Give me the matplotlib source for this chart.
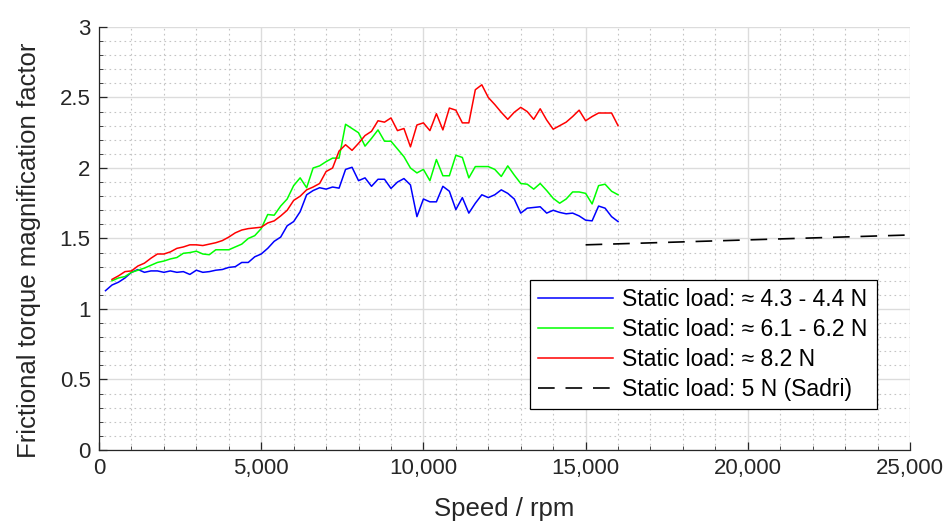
"""Frictional torque magnification factor vs speed, three static loads plus Sadri reference."""

import matplotlib
matplotlib.use("Agg")
import matplotlib.pyplot as plt
from matplotlib.ticker import FuncFormatter, MultipleLocator
import numpy as np

# speeds in rpm, 200 rpm steps
speed_blue = np.arange(200, 16001, 200)
speed_other = np.arange(400, 16001, 200)

load_43 = [
    1.13, 1.17, 1.19, 1.22, 1.26, 1.28, 1.26, 1.27, 1.27, 1.26,
    1.27, 1.26, 1.265, 1.245, 1.275, 1.26, 1.265, 1.275, 1.28, 1.295,
    1.30, 1.33, 1.33, 1.37, 1.39, 1.43, 1.48, 1.51, 1.59, 1.62,
    1.69, 1.81, 1.84, 1.86, 1.85, 1.865, 1.857, 1.99, 2.005, 1.91,
    1.93, 1.87, 1.92, 1.92, 1.855, 1.90, 1.925, 1.88, 1.655, 1.78,
    1.76, 1.76, 1.87, 1.835, 1.705, 1.79, 1.68, 1.75, 1.81, 1.79,
    1.81, 1.845, 1.82, 1.78, 1.68, 1.715, 1.72, 1.725, 1.68, 1.70,
    1.685, 1.675, 1.68, 1.66, 1.63, 1.625, 1.73, 1.715, 1.655, 1.62,
]

load_61 = [
    1.20, 1.22, 1.23, 1.26, 1.275, 1.29, 1.31, 1.33, 1.34,
    1.355, 1.365, 1.395, 1.40, 1.41, 1.39, 1.385, 1.42, 1.42, 1.42,
    1.44, 1.46, 1.50, 1.52, 1.57, 1.67, 1.665, 1.73, 1.78, 1.875,
    1.93, 1.86, 2.00, 2.015, 2.045, 2.07, 2.07, 2.31, 2.28, 2.25,
    2.155, 2.21, 2.27, 2.19, 2.19, 2.135, 2.08, 2.00, 1.965, 1.99,
    1.91, 2.06, 1.945, 1.945, 2.09, 2.075, 1.93, 2.01, 2.01, 2.01,
    1.99, 1.94, 2.015, 1.95, 1.89, 1.885, 1.85, 1.89, 1.84, 1.785,
    1.75, 1.78, 1.83, 1.83, 1.82, 1.745, 1.875, 1.885, 1.835, 1.81,
]

load_82 = [
    1.21, 1.235, 1.265, 1.27, 1.305, 1.325, 1.36, 1.39, 1.39,
    1.405, 1.43, 1.44, 1.455, 1.455, 1.45, 1.46, 1.47, 1.485, 1.51,
    1.54, 1.56, 1.57, 1.575, 1.58, 1.61, 1.625, 1.66, 1.70, 1.77,
    1.80, 1.845, 1.865, 1.89, 1.975, 2.00, 2.12, 2.165, 2.125, 2.175,
    2.23, 2.26, 2.335, 2.325, 2.355, 2.265, 2.28, 2.15, 2.305, 2.32,
    2.265, 2.385, 2.27, 2.425, 2.41, 2.32, 2.32, 2.555, 2.59, 2.50,
    2.45, 2.395, 2.345, 2.395, 2.43, 2.40, 2.345, 2.42, 2.34, 2.275,
    2.30, 2.325, 2.365, 2.41, 2.335, 2.365, 2.39, 2.39, 2.39, 2.30,
]

sadri_speed = [15000, 25000]
sadri_factor = [1.455, 1.525]

labels = [
    "Static load: \u2248 4.3 - 4.4 N",
    "Static load: \u2248 6.1 - 6.2 N",
    "Static load: \u2248 8.2 N",
    "Static load: 5 N (Sadri)",
]

plt.rcParams["font.family"] = ["Liberation Sans", "DejaVu Sans"]
text_color = "#262626"

fig = plt.figure(figsize=(9.53, 5.23), dpi=100)
ax = fig.add_axes([0.1039, 0.1396, 0.851, 0.8088])

ax.plot(speed_blue, load_43, color="#0000ff", linewidth=1.1, label=labels[0])
ax.plot(speed_other, load_61, color="#00ff00", linewidth=1.1, label=labels[1])
ax.plot(speed_other, load_82, color="#ff0000", linewidth=1.1, label=labels[2])
ax.plot(sadri_speed, sadri_factor, color="black", linewidth=1.2,
        dashes=(10, 6.5), label=labels[3])

ax.set_xlim(0, 25000)
ax.set_ylim(0, 3)
ax.xaxis.set_major_locator(MultipleLocator(5000))
ax.xaxis.set_minor_locator(MultipleLocator(1000))
ax.yaxis.set_major_locator(MultipleLocator(0.5))
ax.yaxis.set_minor_locator(MultipleLocator(0.1))
ax.xaxis.set_major_formatter(FuncFormatter(lambda v, _: f"{int(v):,}"))
ax.yaxis.set_major_formatter(FuncFormatter(lambda v, _: f"{v:g}"))

ax.grid(True, which="major", color="#dcdcdc", linewidth=1.0, linestyle="-")
ax.grid(True, which="minor", color="#c4c4c4", linewidth=0.8, linestyle=(0, (1.5, 3)))
ax.set_axisbelow(True)

ax.spines["top"].set_visible(False)
ax.spines["right"].set_visible(False)
for side in ("left", "bottom"):
    ax.spines[side].set_color(text_color)
    ax.spines[side].set_linewidth(0.9)

ax.tick_params(which="major", direction="in", length=6, width=0.9,
               colors=text_color, labelsize=16, pad=6)
ax.tick_params(which="minor", direction="in", length=3, width=0.6, colors=text_color)

ax.set_xlabel("Speed / rpm", fontsize=18.5, color=text_color, labelpad=13)
ax.set_ylabel("Frictional torque magnification factor", fontsize=18.5,
              color=text_color)
ax.yaxis.set_label_coords(-0.072, 0.473)

leg = ax.legend(loc="lower left", bbox_to_anchor=(0.531, 0.097, 0.428, 0.314),
                mode="expand", fontsize=16.5, frameon=True, fancybox=False,
                edgecolor="black", framealpha=1.0, handlelength=3.3,
                borderaxespad=0, labelspacing=0.3, handletextpad=0.4,
                borderpad=0.35)
leg.get_frame().set_linewidth(0.9)

fig.savefig("out.png", dpi=100)
